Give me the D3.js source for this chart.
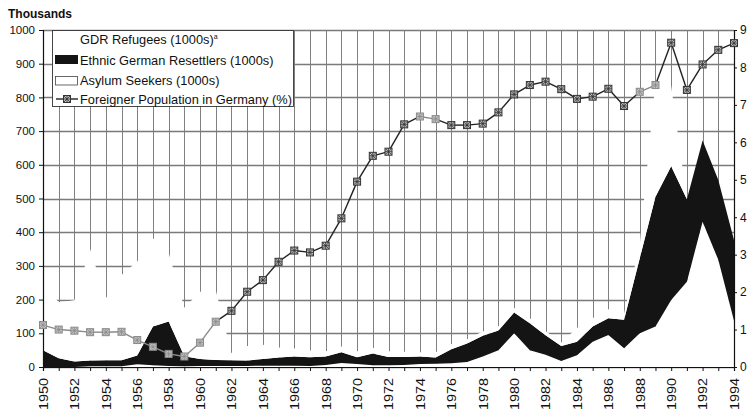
<!DOCTYPE html>
<html><head><meta charset="utf-8">
<script src="https://cdn.jsdelivr.net/npm/d3@7"></script>
<style>
html,body{margin:0;padding:0;background:#fff;}
svg{display:block;font-family:"Liberation Sans",Arial,sans-serif;}
</style></head>
<body>
<svg id="chart" width="749" height="417"></svg>
<script>
const years = d3.range(1950, 1995);
const asylumSeekers = [0,0,0,2,2,2,8,5,3,2,3,3,3,3,4,4,4,3,6,12,9,5,5,6,9,10,11,15,31,50,100,50,36,18,35,75,95,56,100,120,199,253,431,318,137];
const resettlers = [50,26,16,17,18,18,26,115,132,30,21,18,17,16,20,24,27,26,25,32,20,35,25,24,22,18,42,55,62,58,62,80,58,44,40,45,50,84,223,385,397,245,241,237,240];
const gdrRefugees = [198,166,182,331,184,253,279,262,204,144,199,207,21,43,42,30,24,20,16,17,18,17,17,15,13,16,15,12,12,13,13,15,13,11,41,25,26,19,40,344,238,0,0,0,0];
const foreignerPct = [1.12,1.00,0.97,0.93,0.93,0.94,0.72,0.54,0.35,0.28,0.65,1.21,1.50,2.01,2.32,2.81,3.11,3.06,3.24,3.97,4.95,5.64,5.75,6.48,6.69,6.62,6.46,6.46,6.50,6.80,7.28,7.53,7.62,7.42,7.16,7.22,7.43,6.97,7.35,7.53,8.66,7.40,8.08,8.47,8.65];
const leftTicks = d3.range(0, 1001, 100);
const rightTicks = d3.range(0, 10, 1);
const xLabelYears = d3.range(1950, 1995, 2);
const legendLabels = ["GDR Refugees (1000s)", "Ethnic German Resettlers (1000s)", "Asylum Seekers (1000s)", "Foreigner Population in Germany (%)"];
// style only: years whose markers appear faded in the scan
const fadedYears = [1950,1951,1952,1953,1954,1955,1956,1957,1958,1959,1960,1961,1974,1975,1988,1989];

const svg = d3.select("#chart");
const x = d3.scaleLinear().domain([1950, 1994]).range([43, 734]);
const yL = d3.scaleLinear().domain([0, 1000]).range([367, 30]);
const yR = d3.scaleLinear().domain([0, 9]).range([367, 30]);
const crisp = v => Math.round(v) + 0.5;

// grid (vertical every year, horizontal every 100)
const grid = svg.append("g");
grid.selectAll("line.v").data(years).join("line").attr("class", "v")
  .attr("x1", d => crisp(x(d))).attr("x2", d => crisp(x(d))).attr("y1", yL(1000)).attr("y2", yL(0))
  .attr("stroke", "#808080").attr("stroke-width", 1);
grid.selectAll("line.h").data(leftTicks).join("line").attr("class", "h")
  .attr("x1", x(1950)).attr("x2", x(1994)).attr("y1", d => crisp(yL(d))).attr("y2", d => crisp(yL(d)))
  .attr("stroke", "#7a7a7a").attr("stroke-width", 1.5);

// stacked areas
const table = years.map((yr, i) => ({year: yr, asylum: asylumSeekers[i], resettlers: resettlers[i], gdr: gdrRefugees[i]}));
const stack = d3.stack().keys(["asylum", "resettlers", "gdr"])(table);
const area = d3.area().x(d => x(d.data.year)).y0(d => yL(d[0])).y1(d => yL(d[1]));
const fills = {asylum: "#fff", resettlers: "#141414", gdr: "#fff"};
svg.append("g").selectAll("path").data(stack).join("path")
  .attr("d", area).attr("fill", d => fills[d.key]);

// axes
const axL = svg.append("g").attr("transform", `translate(${x(1950)},0)`)
  .call(d3.axisLeft(yL).tickValues(leftTicks).tickFormat(d3.format("d")).tickSize(4).tickPadding(4));
axL.selectAll("text").attr("font-size", 11.5).attr("fill", "#111");
const axR = svg.append("g").attr("transform", `translate(${x(1994)},0)`)
  .call(d3.axisRight(yR).tickValues(rightTicks).tickSize(3).tickPadding(3));
axR.selectAll("text").attr("font-size", 12).attr("fill", "#111");
const axB = svg.append("g").attr("transform", `translate(0,${yL(0)})`)
  .call(d3.axisBottom(x).tickValues(years).tickSize(4).tickFormat(d => xLabelYears.includes(d) ? d : ""));
axB.selectAll("text")
  .attr("transform", "rotate(-90)").attr("x", -11).attr("y", 0).attr("dy", "0.36em")
  .style("text-anchor", "end").attr("font-size", 12).attr("fill", "#111")
  .filter(function(){ return this.textContent !== ""; })
  .attr("textLength", 32).attr("lengthAdjust", "spacingAndGlyphs");
svg.selectAll(".domain").attr("stroke", "#111").attr("stroke-width", 1.2);
svg.selectAll(".tick line").attr("stroke", "#111");
svg.selectAll(".tick text").attr("font-family", "Liberation Sans, Arial, sans-serif");

// foreigner line
const pts = years.map((yr, i) => ({year: yr, v: foreignerPct[i], faded: fadedYears.includes(yr)}));
const lg = svg.append("g");
for (let i = 0; i < pts.length - 1; i++) {
  const a = pts[i], b = pts[i + 1];
  lg.append("line").attr("x1", x(a.year)).attr("y1", yR(a.v)).attr("x2", x(b.year)).attr("y2", yR(b.v))
    .attr("stroke", (a.faded && b.faded) ? "#8a8a8a" : "#222").attr("stroke-width", 1.4);
}
function marker(g, faded) {
  const c = faded ? "#8a8a8a" : "#333";
  g.append("rect").attr("x", -3.5).attr("y", -3.5).attr("width", 7).attr("height", 7)
    .attr("fill", faded ? "#c4c4c4" : "#bdbdbd").attr("stroke", c).attr("stroke-width", 1);
  g.append("path").attr("d", "M-3,-3L3,3M-3,3L3,-3M0,-3.5V3.5M-3.5,0H3.5")
    .attr("stroke", c).attr("stroke-width", 0.8);
}
lg.selectAll("g.m").data(pts).join("g")
  .attr("transform", d => `translate(${x(d.year)},${yR(d.v)})`)
  .each(function(d){ marker(d3.select(this), d.faded); });

// title
svg.append("text").attr("x", 8).attr("y", 18).attr("font-size", 12).attr("font-weight", "bold")
  .attr("fill", "#111").text("Thousands");

// legend
const leg = svg.append("g");
leg.append("rect").attr("x", 52.5).attr("y", 30.5).attr("width", 241).attr("height", 76)
  .attr("fill", "#fff").attr("stroke", "#333").attr("stroke-width", 0.9);
const rowY = [44, 64.5, 85, 104];
leg.append("rect").attr("x", 55).attr("y", 55).attr("width", 23).attr("height", 9).attr("fill", "#141414");
leg.append("rect").attr("x", 55.5).attr("y", 76.5).attr("width", 22).attr("height", 8.5)
  .attr("fill", "#fff").attr("stroke", "#444").attr("stroke-width", 0.8);
leg.append("line").attr("x1", 56).attr("x2", 78).attr("y1", 99).attr("y2", 99).attr("stroke", "#222").attr("stroke-width", 1.4);
marker(leg.append("g").attr("transform", "translate(67,99)"), false);
legendLabels.forEach((t, i) => {
  const tx = leg.append("text").attr("x", 80).attr("y", rowY[i]).attr("font-size", 12.8).attr("fill", "#111").text(t);
  if (i === 0) tx.append("tspan").attr("font-size", 7).attr("dy", -5).text("a");
});
</script>
</body></html>
